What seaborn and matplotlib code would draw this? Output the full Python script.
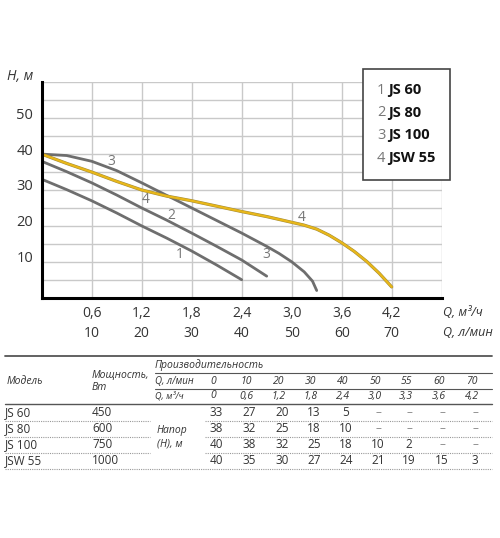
import matplotlib
matplotlib.use("Agg")
import matplotlib.pyplot as plt
import matplotlib.patheffects as pe
from matplotlib.transforms import ScaledTranslation
from matplotlib.patches import Rectangle
import seaborn as sns
import pandas as pd

# curves: Q (m3/h) -> H (m)
q_js60 = [0, 0.3, 0.6, 0.9, 1.2, 1.5, 1.8, 2.1, 2.4]
h_js60 = [33, 30.1, 27, 23.6, 20, 16.6, 13, 9.1, 5]
q_js80 = [0, 0.3, 0.6, 0.9, 1.2, 1.5, 1.8, 2.1, 2.4, 2.7]
h_js80 = [38, 35.1, 32, 28.6, 25, 21.6, 18, 14.3, 10.5, 6]
q_js100 = [0, 0.3, 0.6, 0.9, 1.2, 1.5, 1.8, 2.1, 2.4, 2.7, 2.85, 3.0, 3.15, 3.25, 3.3]
h_js100 = [40, 39.6, 38, 35.4, 32, 28.5, 25, 21.5, 18, 14.3, 12.3, 10, 7.2, 4.6, 2]
q_jsw55 = [0, 0.3, 0.6, 0.9, 1.2, 1.5, 1.8, 2.1, 2.4, 2.7, 3.0, 3.15, 3.3, 3.45, 3.6,
           3.75, 3.9, 4.05, 4.2]
h_jsw55 = [40, 37.4, 35, 32.4, 30, 28.3, 27, 25.5, 24, 22.6, 21, 20.2, 19.1, 17.4, 15.3,
           12.9, 10.1, 6.8, 3]

curve_models = ["JS 60", "JS 80", "JS 100", "JSW 55"]
curve_nums = ["1", "2", "3", "4"]
# curve number tags (q, h)
tag_nums = ["1", "2", "3", "4", "3", "4"]
tag_q = [1.66, 1.56, 0.84, 1.25, 2.69, 3.12]
tag_h = [11.9, 23.0, 37.9, 27.4, 11.9, 22.3]

xticks_m3 = [0.6, 1.2, 1.8, 2.4, 3.0, 3.6, 4.2]
xticks_lmin = [10, 20, 30, 40, 50, 60, 70]
yticks = [10, 20, 30, 40, 50]

# table
tbl_models = ["JS 60", "JS 80", "JS 100", "JSW 55"]
tbl_power = [450, 600, 750, 1000]
tbl_q_lmin = ["0", "10", "20", "30", "40", "50", "55", "60", "70"]
tbl_q_m3 = ["0", "0,6", "1,2", "1,8", "2,4", "3,0", "3,3", "3,6", "4,2"]
tbl_head = [
    [33, 27, 20, 13, 5, None, None, None, None],
    [38, 32, 25, 18, 10, None, None, None, None],
    [40, 38, 32, 25, 18, 10, 2, None, None],
    [40, 35, 30, 27, 24, 21, 19, 15, 3],
]

sns.set_style("white")
plt.rcParams["font.family"] = ["Open Sans", "DejaVu Sans"]

fig = plt.figure(figsize=(5.0, 5.38), dpi=100)
W, H = 500, 538
ax = fig.add_axes([41.7 / W, 1 - 297.7 / H, 400 / W, 215.4 / H])

gray = "#6e6e6e"
series = [(q_js60, h_js60), (q_js80, h_js80), (q_js100, h_js100)]
for (qq, hh), name in zip(series, curve_models[:3]):
    df = pd.DataFrame({"q": qq, "h": hh})
    sns.lineplot(data=df, x="q", y="h", ax=ax, color=gray, linewidth=2, sort=False)
df4 = pd.DataFrame({"q": q_jsw55, "h": h_jsw55})
sns.lineplot(data=df4, x="q", y="h", ax=ax, color="#e8b71a", linewidth=1.6, sort=False,
             path_effects=[pe.Stroke(linewidth=2.3, foreground="#a08a3a"), pe.Normal()])

for t, x, y in zip(tag_nums, tag_q, tag_h):
    ax.text(x, y, t, color="#777777", fontsize=10, ha="center", va="center")

ax.set_xlim(0, 4.8)
ax.set_ylim(0, 60)
ax.set_xticks(xticks_m3)
ax.set_xticklabels([f"{a:.1f}".replace(".", ",") + "\n" + str(b) for a, b in zip(xticks_m3, xticks_lmin)],
                   linespacing=1.45)
ax.set_xticks([4.8], minor=True)
ax.set_yticks(yticks)
ax.set_yticks([5, 15, 25, 35, 45, 55, 60], minor=True)
ax.grid(True, which="both", color="#c9c9c9", linewidth=1)
ax.tick_params(which="both", length=0)
ax.tick_params(axis="x", labelsize=10, pad=6, labelcolor="#333333")
ax.tick_params(axis="y", labelsize=10.5, pad=6, labelcolor="#333333")
for lbl in ax.get_yticklabels():
    lbl.set_transform(lbl.get_transform() + ScaledTranslation(0, 5 / 100, fig.dpi_scale_trans))
for s in ["top", "right"]:
    ax.spines[s].set_visible(False)
for s in ["left", "bottom"]:
    ax.spines[s].set_color("black")
    ax.spines[s].set_linewidth(2.2)
ax.set_xlabel("")
ax.set_ylabel("")

fig.text(7 / W, 1 - 77 / H, "Н, м", fontsize=10, style="italic", color="#333333", va="center")
fig.text(443 / W, 1 - 312 / H, "Q, м³/ч", fontsize=9, style="italic", color="#333333", va="center")
fig.text(443 / W, 1 - 332 / H, "Q, л/мин", fontsize=9, style="italic", color="#333333", va="center")

# legend box
fig.add_artist(Rectangle((363 / W, 1 - 180 / H), 87 / W, 111 / H, transform=fig.transFigure,
                         facecolor="white", edgecolor="#444444", linewidth=1.2))
for i, (n, m) in enumerate(zip(curve_nums, curve_models)):
    yy = 1 - (90 + i * 22.7) / H
    fig.text(377 / W, yy, n, fontsize=10.5, color="#777777", va="center")
    fig.text(388 / W, yy, m, fontsize=10.5, color="#111111", fontweight="bold", va="center")

# table
tx = fig.add_axes([0, 0, 1, 1], facecolor="none")
tx.set_xlim(0, W)
tx.set_ylim(H, 0)
tx.axis("off")
tc = "#333333"
lc = "#555555"
tx.plot([5, 492], [356, 356], color=lc, lw=1.3)
tx.plot([155, 492], [373, 373], color=lc, lw=0.8)
tx.plot([155, 492], [388.5, 388.5], color=lc, lw=0.8)
tx.plot([5, 492], [404, 404], color=lc, lw=1.0)
for yy in [421, 437, 453]:
    tx.plot([5, 150], [yy, yy], color="#999999", lw=0.8, ls=(0, (1, 1)))
    tx.plot([205, 492], [yy, yy], color="#999999", lw=0.8, ls=(0, (1, 1)))
tx.plot([5, 492], [468.5, 468.5], color="#999999", lw=0.8, ls=(0, (1, 1)))

tx.text(7, 381, "Модель", fontsize=7.5, style="italic", color=tc, va="center")
tx.text(92, 375, "Мощность,", fontsize=7.5, style="italic", color=tc, va="center")
tx.text(92, 387.5, "Вт", fontsize=7.5, style="italic", color=tc, va="center")
tx.text(155, 365, "Производительность", fontsize=7.5, style="italic", color=tc, va="center")
tx.text(155, 381, "Q, л/мин", fontsize=7, style="italic", color=tc, va="center")
tx.text(155, 396, "Q, м³/ч", fontsize=6.5, style="italic", color=tc, va="center")
tx.text(157, 431, "Напор", fontsize=7.5, style="italic", color=tc, va="center")
tx.text(157, 444, "(Н), м", fontsize=7.5, style="italic", color=tc, va="center")

col_x = [216, 249, 282, 314, 346, 378, 409, 442, 475]
for cx, a, b in zip(col_x, tbl_q_lmin, tbl_q_m3):
    tx.text(cx - 3, 381, a, fontsize=7.5, style="italic", color=tc, va="center", ha="center")
    tx.text(cx - 3, 396, b, fontsize=7.5, style="italic", color=tc, va="center", ha="center")
row_y = [413, 429, 445, 461]
for ry, m, p, hrow in zip(row_y, tbl_models, tbl_power, tbl_head):
    tx.text(5, ry, m, fontsize=8.5, color=tc, va="center")
    tx.text(92, ry, str(p), fontsize=8.5, color=tc, va="center")
    for cx, v in zip(col_x, hrow):
        tx.text(cx, ry, "–" if v is None else str(v), fontsize=8.5,
                color="#888888" if v is None else tc, va="center", ha="center")

fig.savefig("out.png", dpi=100)
